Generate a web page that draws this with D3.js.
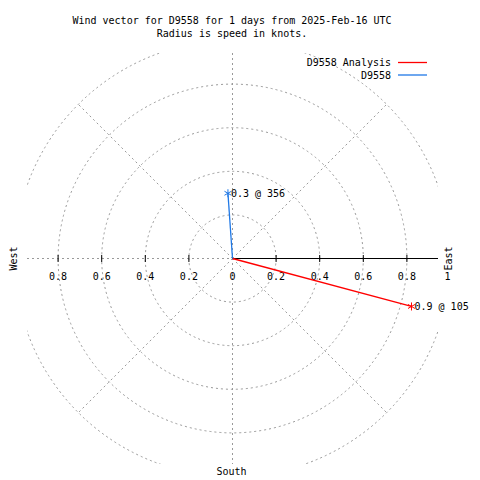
<!DOCTYPE html>
<html>
<head>
<meta charset="utf-8">
<script src="https://cdn.jsdelivr.net/npm/d3@7"></script>
<style>
  html, body { margin: 0; padding: 0; background: #fff; }
  text { font-family: "DejaVu Sans Mono", "Liberation Mono", monospace; font-size: 10px; fill: #000; }
</style>
</head>
<body>
<svg id="chart" width="480" height="480"></svg>
<script>
// ---- data ----
const titleLines = ["Wind vector for D9558 for 1 days from 2025-Feb-16 UTC", "Radius is speed in knots."];
const seriesNames = ["D9558 Analysis", "D9558"];
const seriesColors = ["#ff0000", "#1f78e6"];
const speeds = [0.85, 0.30];
const directions = [105, 356];
const vectorLabels = ["0.9 @ 105", "0.3 @ 356"];
const ringValues = [0.2, 0.4, 0.6, 0.8, 1.0];
const tickValues = [0.2, 0.4, 0.6, 0.8];
const tickLabels = ["0.2", "0.4", "0.6", "0.8"];
const compassLabels = ["West", "East", "South"];

// ---- layout ----
const svg = d3.select("#chart");
const cx = 232.5, cy = 258.5, half = 205.5;
const r = d3.scaleLinear().domain([0, 1]).range([0, 218]);
const ang = d3.scaleLinear().domain([0, 360]).range([0, 2 * Math.PI]);
const pt = (spd, dir) => [cx + r(spd) * Math.sin(ang(dir)), cy - r(spd) * Math.cos(ang(dir))];

svg.append("defs").append("clipPath").attr("id", "box")
  .append("rect").attr("x", cx - half).attr("y", cy - half).attr("width", 2 * half).attr("height", 2 * half);

const grid = svg.append("g").attr("clip-path", "url(#box)")
  .attr("fill", "none").attr("stroke", "#999").attr("stroke-width", 1).attr("stroke-dasharray", "2,3");

grid.selectAll("circle").data(ringValues).join("circle")
  .attr("cx", cx).attr("cy", cy).attr("r", d => r(d));

// axes (dashed) : west, north, south
grid.append("line").attr("x1", cx - half).attr("y1", cy).attr("x2", cx).attr("y2", cy);
grid.append("line").attr("x1", cx).attr("y1", cy - half).attr("x2", cx).attr("y2", cy + half);
// diagonals to outer ring
[45, 135, 225, 315].forEach(a => {
  const p = pt(1, a);
  grid.append("line").attr("x1", cx).attr("y1", cy).attr("x2", p[0]).attr("y2", p[1]);
});

// east solid axis
svg.append("line").attr("x1", cx).attr("y1", cy).attr("x2", cx + half).attr("y2", cy)
  .attr("stroke", "#000").attr("stroke-width", 1);

// ticks
const ticks = svg.append("g").attr("stroke", "#000").attr("stroke-width", 1);
tickValues.forEach(v => {
  [1, -1].forEach(s => {
    ticks.append("line").attr("x1", cx + s * r(v)).attr("x2", cx + s * r(v))
      .attr("y1", cy - 3.5).attr("y2", cy + 3.5);
  });
});

// tick labels
const tl = svg.append("g").attr("text-anchor", "middle");
tickValues.forEach((v, i) => {
  tl.append("text").attr("x", cx + r(v)).attr("y", cy + 21).text(tickLabels[i]);
  tl.append("text").attr("x", cx - r(v)).attr("y", cy + 21).text(tickLabels[i]);
});
tl.append("text").attr("x", cx).attr("y", cy + 21).text("0");
tl.append("text").attr("x", cx + r(1) - 3).attr("y", cy + 21).text("1");

// compass labels
svg.append("text").attr("transform", `translate(17,${cy}) rotate(-90)`).attr("text-anchor", "middle").text(compassLabels[0]);
svg.append("text").attr("transform", `translate(452,${cy}) rotate(-90)`).attr("text-anchor", "middle").text(compassLabels[1]);
svg.append("text").attr("x", cx - 1).attr("y", 475).attr("text-anchor", "middle").text(compassLabels[2]);

// vectors
const vec = svg.append("g");
speeds.forEach((s, i) => {
  const p = pt(s, directions[i]);
  vec.append("line").attr("x1", cx).attr("y1", cy).attr("x2", p[0]).attr("y2", p[1])
    .attr("stroke", seriesColors[i]).attr("stroke-width", 1.3);
  vec.append("path").attr("d", d3.symbol(d3.symbolAsterisk, 45)())
    .attr("transform", `translate(${p[0]},${p[1]})`)
    .attr("stroke", seriesColors[i]).attr("stroke-width", 1).attr("fill", "none");
  vec.append("text").attr("x", p[0] + 3).attr("y", p[1] + 3.5).text(vectorLabels[i]);
});

// title
svg.append("g").attr("text-anchor", "middle").selectAll("text").data(titleLines).join("text")
  .attr("x", 232).attr("y", (d, i) => 24 + i * 13).text(d => d);

// legend
seriesNames.forEach((n, i) => {
  const y = 62.5 + i * 12.5;
  svg.append("text").attr("x", 391).attr("y", y + 3.5).attr("text-anchor", "end").text(n);
  svg.append("line").attr("x1", 398).attr("x2", 427).attr("y1", y).attr("y2", y)
    .attr("stroke", seriesColors[i]).attr("stroke-width", 1.3);
});
</script>
</body>
</html>
